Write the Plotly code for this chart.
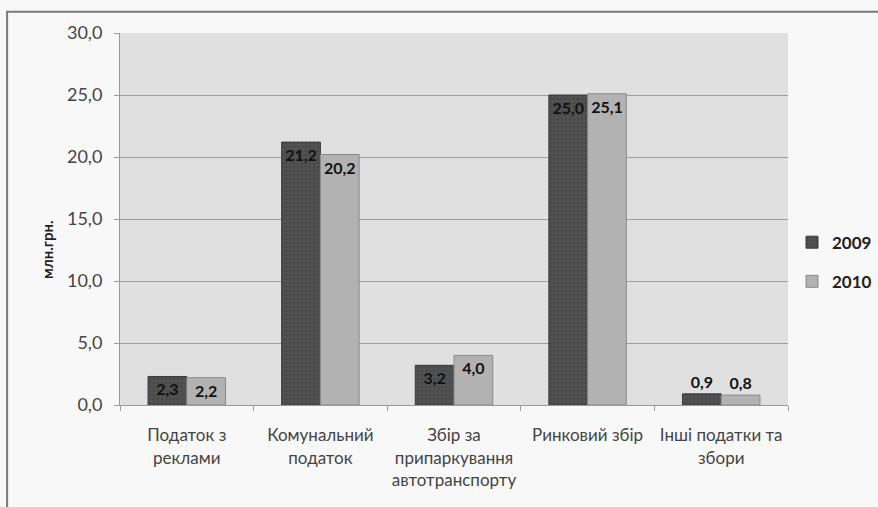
import plotly.graph_objects as go

categories = [
    "Податок з<br>реклами",
    "Комунальний<br>податок",
    "Збір за<br>припаркування<br>автотранспорту",
    "Ринковий збір",
    "Інші податки та<br>збори",
]
values_2009 = [2.3, 21.2, 3.2, 25.0, 0.9]
values_2010 = [2.2, 20.2, 4.0, 25.1, 0.8]
y_ticks = [0, 5, 10, 15, 20, 25, 30]

FONT = "Lato, 'Open Sans', sans-serif"


def fmt(v):
    return f"{v:.1f}".replace(".", ",")


def positions(vals):
    return ["inside" if v >= 2 else "outside" for v in vals]


label_font = dict(family=FONT, size=16, color="#111111", weight="bold")

fig = go.Figure()
fig.add_trace(go.Bar(
    name="2009", x=categories, y=values_2009,
    marker=dict(color="#515151", line=dict(color="#3a3a3a", width=1),
                pattern=dict(shape=".", fgcolor="#3c3c3c", size=4, solidity=0.3)),
    text=[fmt(v) for v in values_2009], textposition=positions(values_2009),
    insidetextanchor="end", textangle=0,
    textfont=label_font, outsidetextfont=label_font,
    legendgroup="a", cliponaxis=False,
))
fig.add_trace(go.Bar(
    name="2010", x=categories, y=values_2010,
    marker=dict(color="#b2b2b2", line=dict(color="#8a8a8a", width=1)),
    text=[fmt(v) for v in values_2010], textposition=positions(values_2010),
    insidetextanchor="end", textangle=0,
    textfont=label_font, outsidetextfont=label_font,
    legendgroup="b", cliponaxis=False,
))

fig.update_layout(
    width=878, height=507,
    margin=dict(l=120, r=90, t=33, b=102, autoexpand=False),
    paper_bgcolor="#f8f8f8",
    plot_bgcolor="#e0e0e0",
    barmode="group", bargap=0.42, bargroupgap=0,
    font=dict(family=FONT, size=17, color="#444444"),
    legend=dict(
        x=1.006, y=0.384, xanchor="left", yanchor="middle",
        font=dict(family=FONT, size=17, color="#222222", weight="bold"),
        tracegroupgap=14, bgcolor="rgba(0,0,0,0)",
        itemwidth=30,
    ),
    showlegend=True,
)
fig.update_xaxes(
    showline=True, linecolor="#9a9a9a", linewidth=1,
    ticks="outside", tickson="boundaries", ticklen=5, tickcolor="#9a9a9a",
    tickfont=dict(family=FONT, size=17, color="#444444"),
    tickangle=0, ticklabelstandoff=15,
    showgrid=False,
)
fig.update_yaxes(
    range=[0, 30], tickvals=y_ticks, ticktext=[fmt(v) for v in y_ticks],
    showline=True, linecolor="#9a9a9a", linewidth=1,
    ticks="outside", ticklen=5, tickcolor="#9a9a9a",
    showgrid=True, gridcolor="#9e9e9e", gridwidth=1,
    tickfont=dict(family=FONT, size=18, color="#444444"),
    ticklabelstandoff=8,
    zeroline=False,
)
fig.add_annotation(
    text="млн.грн.", xref="paper", yref="paper", x=-0.109, y=0.417,
    xanchor="center", yanchor="middle",
    textangle=-90, showarrow=False,
    font=dict(family=FONT, size=15, color="#222222", weight="bold"),
)
# outer chart frame
fig.add_shape(
    type="rect", xref="paper", yref="paper",
    x0=-0.169, x1=1.2, y0=-0.35, y1=1.057,
    line=dict(color="#7a7a7a", width=2), layer="below",
)
fig.write_html("out.html")
